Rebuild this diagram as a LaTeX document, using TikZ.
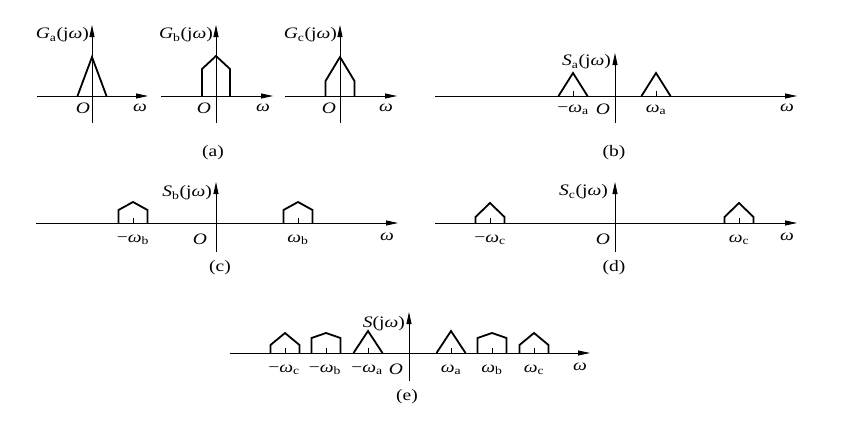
\documentclass[tikz,border=0pt]{standalone}
\usepackage{fontspec}
\setmainfont{Liberation Serif}
\usetikzlibrary{arrows.meta}
\newcommand{\hs}[1]{\scalebox{1.22}[1]{#1}}
\newcommand{\om}{\textit{ω}}
\newcommand{\pent}[5]{\draw[curve] ({#1-#3},#2) -- ({#1-#3},{#2-#4}) -- (#1,{#2-#5}) -- ({#1+#3},{#2-#4}) -- ({#1+#3},#2);}
\newcommand{\tck}[2]{\draw[tickline] (#1,#2) -- (#1,{#2-5});}
\begin{document}
\begin{tikzpicture}[x=1pt,y=-1pt,
  axis/.style={line width=0.8pt,-{Triangle[length=12pt,width=5pt]}},
  vaxis/.style={line width=0.8pt,-{Triangle[length=12pt,width=5pt]}},
  curve/.style={line width=1.8pt,line join=miter},
  tickline/.style={line width=0.6pt},
  lab/.style={inner sep=0pt,font=\fontsize{16}{18}\selectfont}]
\useasboundingbox (0,0) rectangle (843,423);
% ---------- (a) ----------
\draw[axis] (37,96) -- (148,96);
\draw[vaxis] (92,123) -- (92,25);
\pent{92}{96}{14.5}{0}{39}
\node[lab,anchor=east] (Ga) at (89,35) {\hs{\textit{G}\textsubscript{a}(j\om)}};
\node[lab] (Oa1) at (83,108) {\hs{\textit{O}}};
\node[lab] (wa1) at (140,108) {\hs{\om}};
\draw[axis] (161,96) -- (273,96);
\draw[vaxis] (216,123) -- (216,25);
\pent{216}{96}{14}{27}{40}
\node[lab,anchor=east] (Gb) at (213,35) {\hs{\textit{G}\textsubscript{b}(j\om)}};
\node[lab] (Oa2) at (204,108) {\hs{\textit{O}}};
\node[lab] (wa2) at (263,108) {\hs{\om}};
\draw[axis] (285,96) -- (397,96);
\draw[vaxis] (340,123) -- (340,25);
\pent{340}{96}{14.5}{15}{39}
\node[lab,anchor=east] (Gc) at (337,35) {\hs{\textit{G}\textsubscript{c}(j\om)}};
\node[lab] (Oa3) at (329,108) {\hs{\textit{O}}};
\node[lab] (wa3) at (386,108) {\hs{\om}};
\node[lab] (capa) at (213,153) {\hs{(a)}};
% ---------- (b) ----------
\draw[axis] (435,96) -- (797,96);
\draw[vaxis] (615,123) -- (615,53);
\pent{573}{96}{14.5}{0}{23}
\pent{656}{96}{14.5}{0}{23}
\tck{573}{96}\tck{656}{96}
\node[lab,anchor=east] (Sa) at (611,62) {\hs{\textit{S}\textsubscript{a}(j\om)}};
\node[lab] (mwa) at (573,110) {\hs{−\om\textsubscript{a}}};
\node[lab] (Ob) at (603,109) {\hs{\textit{O}}};
\node[lab] (pwa) at (656,110) {\hs{\om\textsubscript{a}}};
\node[lab] (wb) at (787,108) {\hs{\om}};
\node[lab] (capb) at (614,153) {\hs{(b)}};
% ---------- (c) ----------
\draw[axis] (36,223) -- (398,223);
\draw[vaxis] (216,252) -- (216,182);
\pent{133}{223}{14.5}{13}{21}
\pent{298}{223}{14.5}{13}{21}
\tck{133}{223}\tck{298}{223}
\node[lab,anchor=east] (Sb) at (212,193) {\hs{\textit{S}\textsubscript{b}(j\om)}};
\node[lab] (mwb) at (133,240) {\hs{−\om\textsubscript{b}}};
\node[lab] (Oc) at (200,239) {\hs{\textit{O}}};
\node[lab] (pwb) at (298,240) {\hs{\om\textsubscript{b}}};
\node[lab] (wc) at (387,237) {\hs{\om}};
\node[lab] (capc) at (220,268) {\hs{(c)}};
% ---------- (d) ----------
\draw[axis] (435,223) -- (797,223);
\draw[vaxis] (615,252) -- (615,182);
\pent{490}{223}{14.5}{6}{20}
\pent{739}{223}{14.5}{6}{20}
\tck{490}{223}\tck{739}{223}
\node[lab,anchor=east] (Sc) at (608,192) {\hs{\textit{S}\textsubscript{c}(j\om)}};
\node[lab] (mwc) at (490,240) {\hs{−\om\textsubscript{c}}};
\node[lab] (Od) at (603,239) {\hs{\textit{O}}};
\node[lab] (pwc) at (739,240) {\hs{\om\textsubscript{c}}};
\node[lab] (wd) at (787,237) {\hs{\om}};
\node[lab] (capd) at (614,268) {\hs{(d)}};
% ---------- (e) ----------
\draw[axis] (230,353) -- (590,353);
\draw[vaxis] (409,381) -- (409,312);
\pent{285}{353}{14.5}{8}{20}
\pent{326}{353}{14.5}{15}{20}
\pent{368}{353}{14.5}{0}{22}
\pent{451}{353}{14.5}{0}{22}
\pent{492}{353}{14.5}{15}{20}
\pent{534}{353}{14.5}{8}{20}
\tck{285}{353}\tck{326}{353}\tck{368}{353}\tck{451}{353}\tck{492}{353}\tck{534}{353}
\node[lab,anchor=east] (S) at (405,324) {\hs{\textit{S}(j\om)}};
\node[lab] (emwc) at (284,370) {\hs{−\om\textsubscript{c}}};
\node[lab] (emwb) at (325,370) {\hs{−\om\textsubscript{b}}};
\node[lab] (emwa) at (367,370) {\hs{−\om\textsubscript{a}}};
\node[lab] (Oe) at (396,369) {\hs{\textit{O}}};
\node[lab] (epwa) at (451,370) {\hs{\om\textsubscript{a}}};
\node[lab] (epwb) at (492,370) {\hs{\om\textsubscript{b}}};
\node[lab] (epwc) at (534,370) {\hs{\om\textsubscript{c}}};
\node[lab] (we) at (580,367) {\hs{\om}};
\node[lab] (cape) at (407,397) {\hs{(e)}};
\end{tikzpicture}
\end{document}
